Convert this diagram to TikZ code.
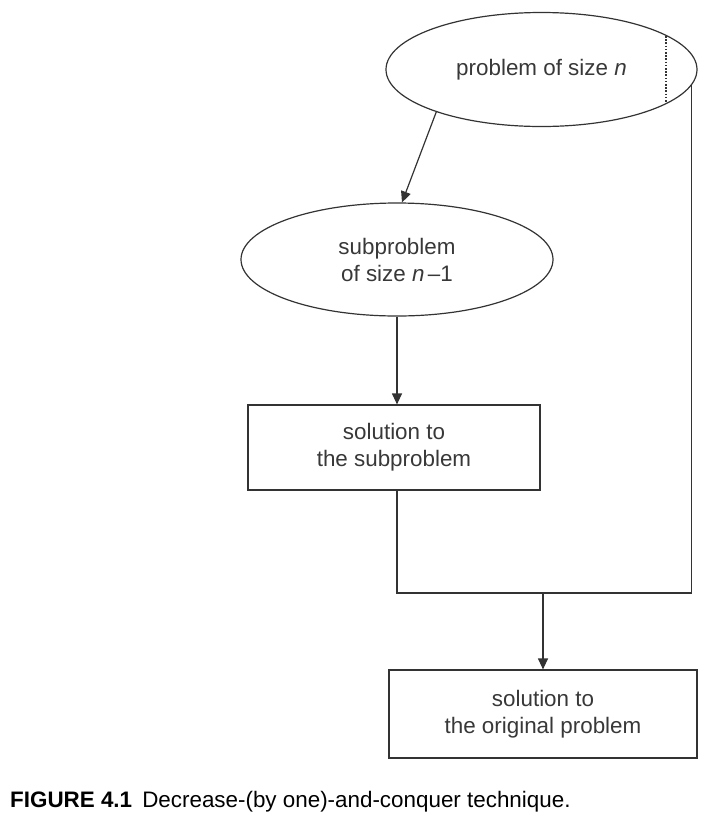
\documentclass[tikz,border=0pt]{standalone}
\usepackage{fontspec}
\setmainfont{Liberation Sans}
\usetikzlibrary{shapes.geometric,arrows.meta,calc}
\begin{document}
\begin{tikzpicture}[x=1pt,y=-1pt,
  every node/.style={font=\fontsize{22.4}{27}\selectfont, text=black!78, align=center},
  ell/.style={draw=black!80, line width=1.2pt, ellipse, inner sep=0pt},
  boxn/.style={draw=black!80, line width=1.2pt, rectangle, inner sep=0pt},
  ln/.style={draw=black!80, line width=1.2pt},
  arr/.style={ln, -{Triangle[length=11pt,width=10pt]}}]
\useasboundingbox (0,0) rectangle (712,820);
\node[ell, minimum width=311, minimum height=114] (top) at (541.5,69.5) {problem of size \textit{n}};
\node[ell, minimum width=312, minimum height=113] (sub) at (397,259.5) {subproblem\\of size \textit{n}\hspace{0.15em}–1};
\node[boxn, minimum width=292, minimum height=85] (box1) at (394,447.5) {solution to\\the subproblem};
\node[boxn, minimum width=308, minimum height=88] (box2) at (543,714) {solution to\\the original problem};
\coordinate (junc) at (543,593);
\coordinate (rgt) at (top.-6.5);
\coordinate (left) at (397,593);
\draw[ln, line width=1.1pt, dash pattern=on 1.6pt off 1.6pt] (666,36) -- (666,102);
\draw[arr] (top.202) -- (sub.85);
\draw[arr] (sub.south) -- (sub.south |- box1.north);
\draw[ln] (sub.south |- box1.south) -- (left) -- (junc) -- (rgt |- junc) -- (rgt);
\draw[arr] (junc) -- (box2.north);
\node[anchor=base west, text=black, inner sep=0pt] (cap) at (10,807) {\textbf{FIGURE 4.1}\hspace{0.45em}Decrease-(by one)-and-conquer technique.};
\end{tikzpicture}
\end{document}
